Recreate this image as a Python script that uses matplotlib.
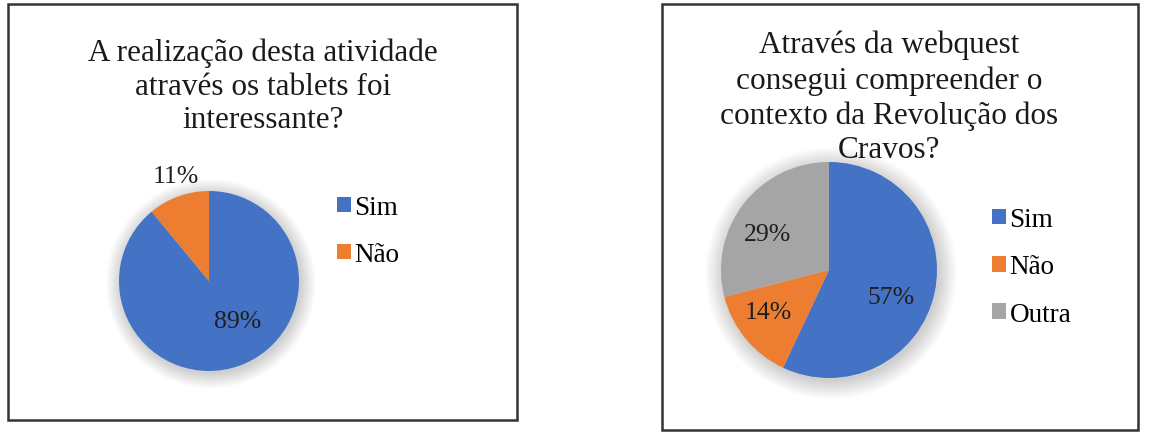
import matplotlib
matplotlib.use("Agg")
import matplotlib.pyplot as plt
from matplotlib.patches import Rectangle, Circle
import numpy as np

plt.rcParams['font.family'] = ['Liberation Serif', 'DejaVu Serif']

# Dados
labels_1 = ["Sim", "Não"]
values_1 = [89, 11]
title_1 = "A realização desta atividade\natravés os tablets foi\ninteressante?"

labels_2 = ["Sim", "Não", "Outra"]
values_2 = [57, 14, 29]
title_2 = "Através da webquest\nconsegui compreender o\ncontexto da Revolução dos\nCravos?"

colors = ["#4472C4", "#ED7D31", "#A5A5A5"]

W, H = 1152, 435
fig = plt.figure(figsize=(W / 100, H / 100), dpi=100)


def px_axes(cx, cy, r):
    # eixo quadrado em pixels, centro (cx, cy) medido a partir do topo
    return fig.add_axes([(cx - r) / W, (H - cy - r) / H, 2 * r / W, 2 * r / H])


def box(x0, y0, x1, y1):
    fig.patches.append(Rectangle((x0 / W, 1 - y1 / H), (x1 - x0) / W, (y1 - y0) / H,
                                 transform=fig.transFigure, fill=False,
                                 edgecolor="#333333", linewidth=1.8))


def draw_pie(ax, values, dists, shifts, fontsize):
    # sombra suave à volta da pizza
    for k in range(16):
        ax.add_patch(Circle((0.02, -0.03), 1.0 + 0.011 * k, color="black",
                            alpha=0.011, lw=0, zorder=0))
    wedges, _ = ax.pie(values, colors=colors[:len(values)], startangle=90,
                       counterclock=False, radius=1.0,
                       wedgeprops=dict(linewidth=0, zorder=2))
    total = sum(values)
    for w, v, d, s in zip(wedges, values, dists, shifts):
        ang = np.deg2rad((w.theta1 + w.theta2) / 2 + s)
        ax.text(d * np.cos(ang), d * np.sin(ang), f"{round(100 * v / total)}%",
                ha="center", va="center", fontsize=fontsize, color="#1f1f1f",
                zorder=3)
    ax.set_xlim(-1.3, 1.3)
    ax.set_ylim(-1.3, 1.3)
    ax.axis("off")
    return wedges


def legend(handles, labels, x, ymid):
    fig.legend(handles, labels, loc="center left",
               bbox_to_anchor=(x / W, 1 - ymid / H), frameon=False,
               fontsize=19.5, handlelength=0.5, handleheight=0.5,
               handletextpad=0.15, labelspacing=0.82,
               borderpad=0, borderaxespad=0)


# Gráfico 1
box(8, 5, 517, 421)
ax1 = px_axes(209, 282, 90 * 1.3)
w1 = draw_pie(ax1, values_1, [0.55, 1.22], [16, -2], 18.5)
fig.text(263 / W, 1 - 87 / H, title_1, ha="center", va="center",
         fontsize=22.5, linespacing=1.2, color="#1a1a1a")
legend(w1, labels_1, 337, 232)

# Gráfico 2
box(662, 5, 1138, 431)
ax2 = px_axes(829, 271, 108 * 1.3)
w2 = draw_pie(ax2, values_2, [0.63, 0.68, 0.66], [-11, -5, 7], 18.5)
fig.text(889 / W, 1 - 98 / H, title_2, ha="center", va="center",
         fontsize=22.5, linespacing=1.25, color="#1a1a1a")
legend(w2, labels_2, 992, 268)

fig.savefig("out.png", dpi=100)
